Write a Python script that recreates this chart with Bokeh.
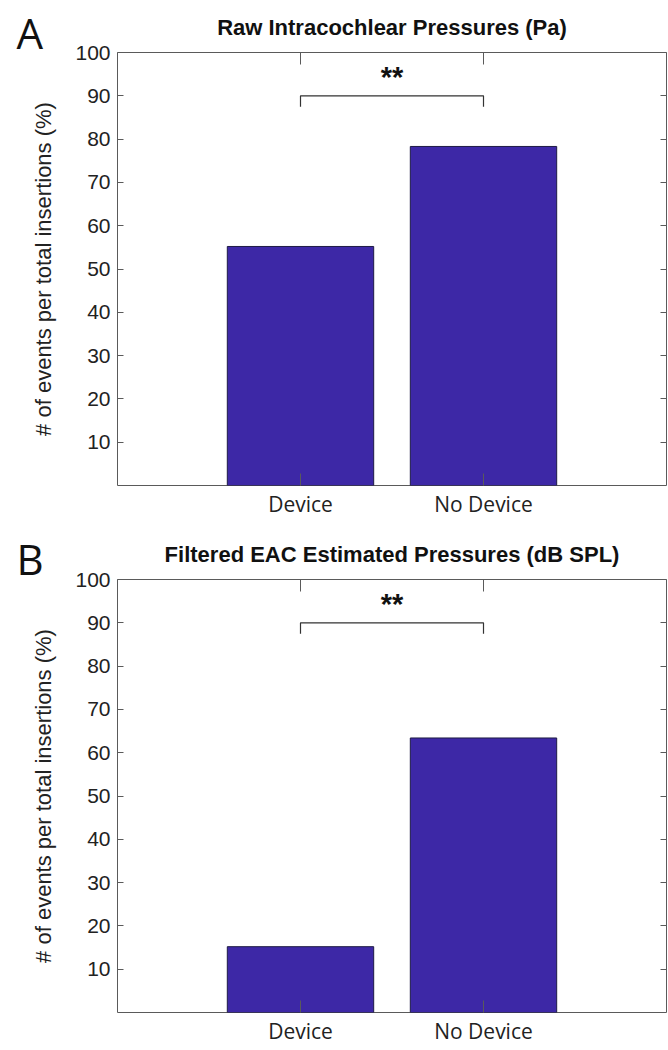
from bokeh.plotting import figure
from bokeh.layouts import column
from bokeh.models import FixedTicker, LinearAxis, Label, Range1d
from bokeh.core.properties import value
from bokeh.embed import file_html
from bokeh.resources import INLINE

# ---- data ----
categories = ["Device", "No Device"]
panel_letters = ["A", "B"]
panel_titles = ["Raw Intracochlear Pressures (Pa)",
                "Filtered EAC Estimated Pressures (dB SPL)"]
raw_pct = [55.2, 78.3]          # panel A
filtered_pct = [15.2, 63.4]     # panel B
y_ticks = [10, 20, 30, 40, 50, 60, 70, 80, 90, 100]
sig_text = "**"
sig_level = 90
y_label = "# of events per total insertions (%)"

BAR = "#3d28a6"
AX = "#5a5a5a"
TXT = "#222222"
FRAME_H = 433


def make_panel(letter, title, values, height, b_top, b_bottom, letter_dy):
    xs = list(range(1, len(categories) + 1))
    p = figure(width=668, height=height,
               x_range=Range1d(0, len(categories) + 1), y_range=Range1d(0, 100),
               output_backend="svg", toolbar_location=None,
               min_border_left=117, min_border_right=2,
               min_border_top=b_top, min_border_bottom=b_bottom)
    p.grid.visible = False
    p.outline_line_color = AX
    p.outline_line_width = 1
    p.background_fill_color = "white"
    p.border_fill_color = "white"

    p.vbar(x=xs, top=values, width=0.8, bottom=0,
           fill_color=BAR, line_color="#1e1b45", line_width=1)

    # significance bracket
    leg = sig_level - 2.5
    p.line(x=[xs[0], xs[0], xs[1], xs[1]], y=[leg, sig_level, sig_level, leg],
           line_color="#333333", line_width=1.2)
    p.text(x=[(xs[0] + xs[1]) / 2], y=[sig_level + 4.4], text=[sig_text],
           text_font=value("Liberation Sans"), text_font_style="bold",
           text_font_size="29px", text_align="center",
           text_baseline="alphabetic", text_color="#111111")

    # bottom x axis
    xa = p.xaxis[0]
    xa.ticker = FixedTicker(ticks=xs)
    xa.major_label_overrides = {x: c for x, c in zip(xs, categories)}
    xa.major_label_text_font = "Open Sans"
    xa.major_label_text_font_size = "21px"
    xa.major_label_text_color = TXT
    xa.major_label_standoff = 4
    xa.major_tick_in = 12
    xa.major_tick_out = 0
    xa.minor_tick_line_color = None
    xa.major_tick_line_color = AX
    xa.axis_line_color = None

    # left y axis
    ya = p.yaxis[0]
    ya.ticker = FixedTicker(ticks=y_ticks)
    ya.major_label_text_font = "Liberation Sans"
    ya.major_label_text_font_size = "21px"
    ya.major_label_text_color = TXT
    ya.major_label_standoff = 7
    ya.major_tick_in = 6
    ya.major_tick_out = 0
    ya.minor_tick_line_color = None
    ya.major_tick_line_color = AX
    ya.axis_line_color = None
    ya.axis_label = y_label
    ya.axis_label_text_font = "Liberation Sans"
    ya.axis_label_text_font_size = "22px"
    ya.axis_label_text_font_style = "normal"
    ya.axis_label_text_color = TXT
    ya.axis_label_standoff = 16

    # mirrored ticks on right and top (no labels)
    ra = LinearAxis(ticker=FixedTicker(ticks=y_ticks), major_tick_in=6,
                    major_tick_out=0, minor_tick_line_color=None,
                    major_tick_line_color=AX, axis_line_color=None,
                    major_label_overrides={t: "" for t in y_ticks},
                    major_label_text_font_size="1px", major_label_standoff=0)
    p.add_layout(ra, "right")
    ta = LinearAxis(ticker=FixedTicker(ticks=xs), major_tick_in=12,
                    major_tick_out=0, minor_tick_line_color=None,
                    major_tick_line_color=AX, axis_line_color=None,
                    major_label_overrides={x: "" for x in xs},
                    major_label_text_font_size="1px", major_label_standoff=0)
    p.add_layout(ta, "above")

    # title
    p.title.text = title
    p.title.align = "center"
    p.title.text_font = "Liberation Sans"
    p.title.text_font_style = "bold"
    p.title.text_font_size = "22px"
    p.title.text_color = "#111111"
    p.title.text_line_height = 0.75
    p.title.standoff = 25

    # panel letter, placed in the left side panel (not clipped to the frame)
    p.add_layout(Label(x=15, y=FRAME_H + letter_dy, x_units="screen",
                       y_units="screen", text=letter,
                       text_align="left", text_baseline="alphabetic",
                       text_font="Open Sans", text_font_size="42px",
                       text_color="#111111"), "left")
    return p


pa = make_panel(panel_letters[0], panel_titles[0], raw_pct, 527, 52, 42, 20)
pb = make_panel(panel_letters[1], panel_titles[1], filtered_pct, 521, 52, 36, 21)

layout = column(pa, pb, spacing=0)
open("out.html", "w").write(file_html(layout, INLINE))
